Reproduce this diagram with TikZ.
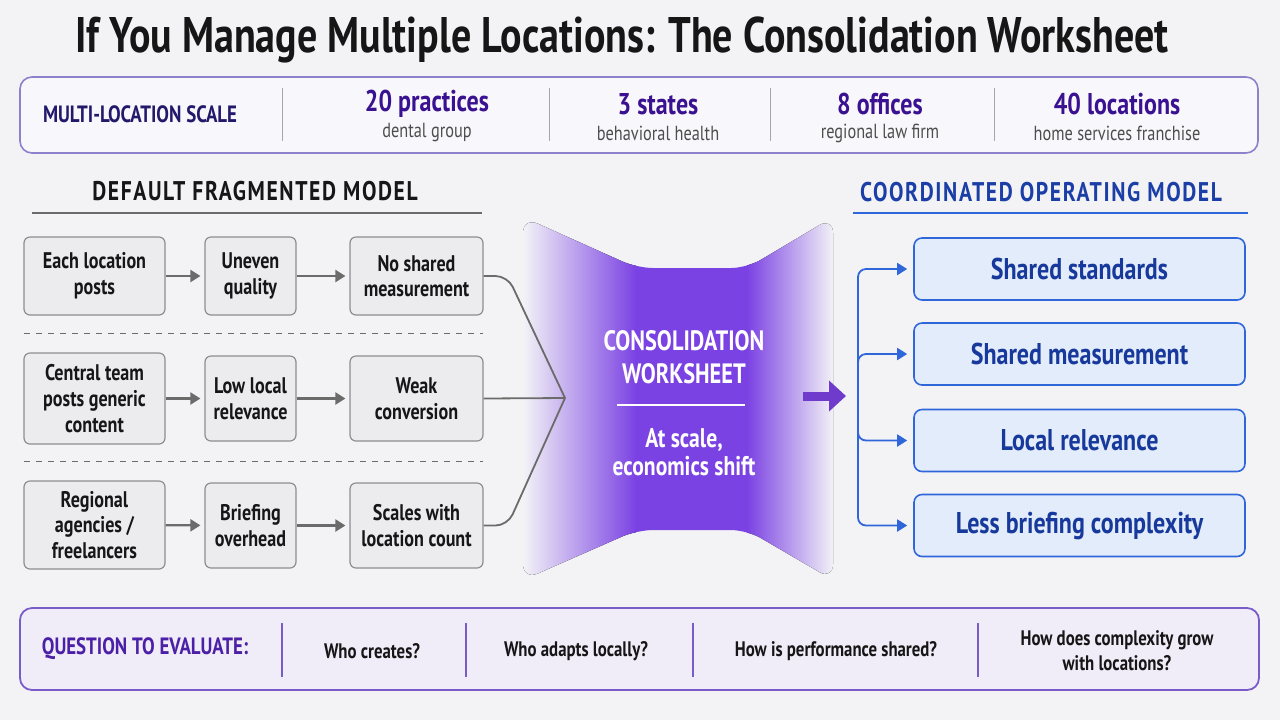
\documentclass[tikz,border=0pt]{standalone}
\usepackage{fontspec}
\setmainfont{PT Sans}[FakeStretch=0.8]
\usepackage{tikz}
\usetikzlibrary{arrows.meta,positioning,calc}
\definecolor{bg}{HTML}{F3F3F6}
\definecolor{ink}{HTML}{161616}
\definecolor{tline}{HTML}{8C82CC}
\definecolor{tfill}{HTML}{F8F7FC}
\definecolor{navy}{HTML}{22196B}
\definecolor{pnum}{HTML}{3A1190}
\definecolor{subgray}{HTML}{4D4D4D}
\definecolor{divgray}{HTML}{A6A6A6}
\definecolor{ffill}{HTML}{ECECEF}
\definecolor{fgray}{HTML}{8E8E92}
\definecolor{agray}{HTML}{6B6B6B}
\definecolor{hub}{HTML}{7B42E3}
\definecolor{cblue}{HTML}{2F66DA}
\definecolor{cfill}{HTML}{E3ECFA}
\definecolor{cnavy}{HTML}{17399C}
\definecolor{headblue}{HTML}{1B3FA6}
\definecolor{qline}{HTML}{7A5CC9}
\definecolor{qfill}{HTML}{F0EDF8}
\definecolor{qpurple}{HTML}{4B1FA6}

\begin{document}
\begin{tikzpicture}[x=0.5pt,y=-0.5pt,fbox/.style={draw=fgray,fill=ffill,rounded corners=3pt,line width=0.6pt,align=center,text=ink,inner sep=1pt,font=\bfseries\fontsize{11.3}{12.8}\selectfont},cbox/.style={draw=cblue,fill=cfill,rounded corners=4pt,line width=0.8pt,minimum width=165.5pt,minimum height=31pt,text=cnavy,font=\bfseries\fontsize{15}{17}\selectfont},arr/.style={-{Triangle[length=5pt,width=6pt]},line width=1.1pt,draw=agray,shorten >=2pt},link/.style={line width=0.9pt,draw=agray,rounded corners=6pt},barr/.style={-{Triangle[length=5pt,width=6pt]},line width=0.9pt,draw=cblue,rounded corners=4pt,shorten >=3pt},head/.style={font=\bfseries\fontsize{13.5}{15}\selectfont\addfontfeature{LetterSpace=6}},num/.style={text=pnum,font=\bfseries\fontsize{15}{17}\selectfont},sub/.style={text=subgray,font=\fontsize{10.2}{12}\selectfont},qtxt/.style={text=ink,align=center,font=\bfseries\fontsize{10.5}{12.5}\selectfont}]
\useasboundingbox (0,0) rectangle (1280,720);
\fill[bg] (0,0) rectangle (1280,720);
\node[text=ink,font=\bfseries\fontsize{25}{29}\selectfont] (title) at (622,40) {If You Manage Multiple Locations: The Consolidation Worksheet};
% scale strip
\node[draw=tline,fill=tfill,rounded corners=6pt,line width=0.8pt,minimum width=619pt,minimum height=38pt] (scale) at (639,115) {};
\node[text=navy,font=\bfseries\fontsize{11.8}{13}\selectfont] (scalelbl) at (140,114) {MULTI-LOCATION SCALE};
\foreach \x in {282,549,770,994} \draw[divgray,line width=0.5pt] (\x,88) -- (\x,141);
\node[num] (n1) at (427,104) {20 practices};
\node[sub] (s1) at (427,133) {dental group};
\node[num] (n2) at (658,104) {3 states};
\node[sub] (s2) at (658,133) {behavioral health};
\node[num] (n3) at (880,104) {8 offices};
\node[sub] (s3) at (880,133) {regional law firm};
\node[num] (n4) at (1117,104) {40 locations};
\node[sub] (s4) at (1117,133) {home services franchise};
% headings
\node[head,text=ink] (lhead) at (255,191) {DEFAULT FRAGMENTED MODEL};
\draw[agray,line width=0.6pt] (32,213) -- (482,213);
\node[head,text=headblue] (rhead) at (1041,192) {COORDINATED OPERATING MODEL};
\draw[cblue,line width=0.6pt] (853,213) -- (1248,213);
% consolidation hub
\begin{scope}
\clip[rounded corners=8pt] (523,217) -- (637,268) -- (747,268) -- (833,217) -- (833,580) -- (747,530) -- (637,530) -- (523,580) -- cycle;
\fill[left color=bg,right color=hub] (523,210) rectangle (636,590);
\fill[hub] (635,210) rectangle (748,590);
\fill[left color=hub,right color=bg] (747,210) rectangle (834,590);
\end{scope}
\node[text=white,align=center,font=\bfseries\fontsize{14}{16.5}\selectfont] (cws) at (684,357) {CONSOLIDATION\\WORKSHEET};
\draw[white,line width=0.7pt] (617,405) -- (745,405);
\node[text=white,align=center,font=\bfseries\fontsize{13.5}{14}\selectfont] (shift) at (684,452) {At scale,\\economics shift};
% fragmented rows
\node[fbox,minimum width=70.5pt,minimum height=39pt] (b11) at (94.5,276) {Each location\\posts};
\node[fbox,minimum width=45.5pt,minimum height=39pt] (b12) at (250.5,276) {Uneven\\quality};
\node[fbox,minimum width=66.5pt,minimum height=39pt] (b13) at (416.5,276) {No shared\\measurement};
\node[fbox,minimum width=70.5pt,minimum height=45.5pt] (b21) at (94.5,398.5) {Central team\\posts generic\\content};
\node[fbox,minimum width=45.5pt,minimum height=42.5pt] (b22) at (250.5,398.5) {Low local\\relevance};
\node[fbox,minimum width=66.5pt,minimum height=42.5pt] (b23) at (416.5,398.5) {Weak\\conversion};
\node[fbox,minimum width=70.5pt,minimum height=44pt] (b31) at (94.5,525) {Regional\\agencies /\\freelancers};
\node[fbox,minimum width=45.5pt,minimum height=42.5pt] (b32) at (250.5,525.5) {Briefing\\overhead};
\node[fbox,minimum width=66.5pt,minimum height=42.5pt] (b33) at (416.5,525.5) {Scales with\\location count};
\draw[agray,dashed,line width=0.5pt] (24,333) -- (483,333);
\draw[agray,dashed,line width=0.5pt] (24,461) -- (483,461);
\draw[arr](b11)--(b12);\draw[arr](b12)--(b13);\draw[arr](b21)--(b22);\draw[arr](b22)--(b23);\draw[arr](b31)--(b32);\draw[arr](b32)--(b33);
\coordinate (mrg) at (565,398);
\draw[link](b13.east)--++(24,0)--(mrg);\draw[link](b23.east)--(mrg);\draw[link](b33.east)--++(24,0)--(mrg);
% coordinated model
\node[cbox] (r1) at (1079.5,269) {Shared standards};
\node[cbox] (r2) at (1079.5,354) {Shared measurement};
\node[cbox] (r3) at (1079.5,440.5) {Local relevance};
\node[cbox] (r4) at (1079.5,525.5) {Less briefing complexity};
\coordinate (trunk) at (858,396);
\coordinate (hubout) at (803,396);
\draw[-{Triangle[length=8.5pt,width=15pt]},line width=4.5pt,draw=hub!90!black,shorten >=6pt](hubout)--(trunk);
\foreach \r in {r1,r2,r3,r4} \draw[barr](trunk)|-(\r.west);
% questions strip
\node[draw=qline,fill=qfill,rounded corners=6pt,line width=0.9pt,minimum width=619.5pt,minimum height=41pt] (quest) at (639.5,649) {};
\node[text=qpurple,font=\bfseries\fontsize{11.8}{13}\selectfont] (qlbl) at (145,649) {QUESTION TO EVALUATE:};
\foreach \x in {282,466,693,978} \draw[qline,line width=0.6pt] (\x,623) -- (\x,677);
\node[qtxt] (q1) at (372,651) {Who creates?};
\node[qtxt] (q2) at (576,651) {Who adapts locally?};
\node[qtxt] (q3) at (836,651) {How is performance shared?};
\node[qtxt] (q4) at (1117,651) {How does complexity grow\\with locations?};
\end{tikzpicture}
\end{document}
